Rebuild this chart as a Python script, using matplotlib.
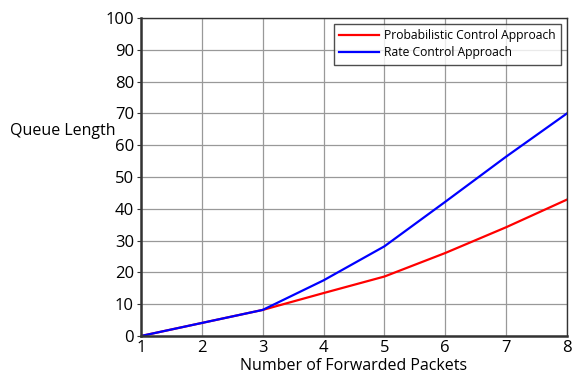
import matplotlib
matplotlib.use("Agg")
import matplotlib.pyplot as plt

x = [1, 2, 3, 4, 5, 6, 7, 8]
prob = [0, 4.1, 8.2, 13.5, 18.7, 26.1, 34.2, 42.9]
rate = [0, 4.1, 8.2, 17.5, 28.2, 42.2, 56.4, 70.0]
yticks = list(range(0, 101, 10))

plt.rcParams['font.family'] = ['Open Sans', 'DejaVu Sans']

fig = plt.figure(figsize=(5.73, 3.75), dpi=100)
ax = fig.add_axes([0.246, 0.104, 0.7435, 0.848])
ax.plot(x, prob, color='#ff0000', lw=1.6, label='Probabilistic Control Approach')
ax.plot(x, rate, color='#0000ff', lw=1.6, label='Rate Control Approach')
ax.set_xlim(1, 8)
ax.set_ylim(0, 100)
ax.set_xticks(x)
ax.set_yticks(yticks)
ax.grid(True, color='#999999', lw=0.9)
ax.set_axisbelow(True)
for s in ax.spines.values():
    s.set_color('#333333')
    s.set_linewidth(1.0)
ax.spines['left'].set_linewidth(1.8)
ax.spines['bottom'].set_linewidth(1.8)
ax.tick_params(axis='both', labelsize=12, color='#333333', length=3, pad=2)
ax.tick_params(axis='x', length=0, pad=3)
ax.set_xlabel('Number of Forwarded Packets', fontsize=11.5, va='center')
ax.xaxis.set_label_coords(0.5, -0.094)
fig.text(10 / 573, 1 - 131 / 375, 'Queue Length', fontsize=11.5, ha='left', va='center')
leg = ax.legend(loc='upper right', fontsize=8.7, frameon=True, fancybox=False,
                edgecolor='#222222', borderaxespad=0.5, handlelength=3.3,
                borderpad=0.45, labelspacing=0.3, handletextpad=0.4)
leg.get_frame().set_linewidth(1.0)
fig.savefig('out.png', dpi=100)
